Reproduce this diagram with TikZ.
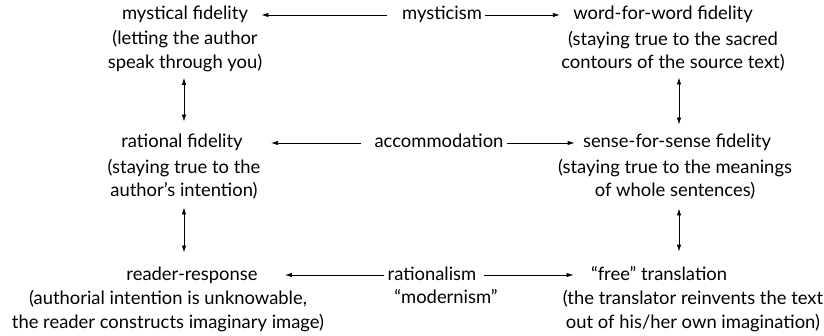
\documentclass[tikz,border=0pt]{standalone}
\usepackage{fontspec}
\setmainfont{Lato}
\usetikzlibrary{arrows.meta,calc}
\begin{document}
\begin{tikzpicture}[x=0.5pt,y=-0.5pt,
  every node/.style={inner sep=0pt, font=\fontsize{9.2}{11.6}\selectfont},
  title/.style={text height=7pt,text depth=2pt},
  desc/.style={align=center},
  arr/.style={-{Latex[length=3.5pt,width=2.2pt]}, line width=0.4pt},
  dbl/.style={{Latex[length=3.5pt,width=2.2pt]}-{Latex[length=3.5pt,width=2.2pt]}, line width=0.4pt}]
\useasboundingbox (0,0) rectangle (824,336);
% row 1
\node[title] (mf) at (185,15) {mystical fidelity};
\node[desc] (mfd) at (185,51) {(letting the author\\speak through you)};
\node[title] (mys) at (442,15) {mysticism};
\node[title] (wf) at (663,15) {word-for-word fidelity};
\node[desc] (wfd) at (673,51) {(staying true to the sacred\\contours of the source text)};
% row 2
\node[title] (rf) at (182,143) {rational fidelity};
\node[desc] (rfd) at (184,179) {(staying true to the\\author’s intention)};
\node[title] (acc) at (439,143) {accommodation};
\node[title] (sf) at (677,143) {sense-for-sense fidelity};
\node[desc] (sfd) at (675,179) {(staying true to the meanings\\of whole sentences)};
% row 3
\node[title] (rr) at (192,275) {reader-response};
\node[desc] (rrd) at (168,311) {(authorial intention is unknowable,\\the reader constructs imaginary image)};
\node[title] (rat) at (432,275) {rationalism};
\node[title] (mod) at (446,298) {“modernism”};
\node[title] (ft) at (659,275) {“free” translation};
\node[desc] (ftd) at (693,311) {(the translator reinvents the text\\out of his/her own imagination)};
% horizontal arrows
\draw[arr] ([xshift=-7.5pt]mys.west) -- ([xshift=6.5pt]mf.east);
\draw[arr] ([xshift=1.5pt]mys.east) -- ([xshift=-6.5pt]wf.west);
\draw[arr] ([xshift=-6.5pt]acc.west) -- ([xshift=14pt]rf.east);
\draw[arr] ([xshift=1.5pt]acc.east) -- ([xshift=-4pt]sf.west);
\draw[arr] ([xshift=-1.5pt]rat.west) -- ([xshift=13.5pt]rr.east);
\draw[arr] ([xshift=3.5pt]rat.east) -- ([xshift=-8.5pt]ft.west);
% vertical arrows
\draw[dbl] ($(mfd.south)+(-0.5pt,-3pt)$) -- ($(mfd.south |- rf.north)+(-0.5pt,6pt)$);
\draw[dbl] ($(mfd.south |- rfd.south)+(-0.5pt,-4pt)$) -- ($(mfd.south |- rr.north)+(-0.5pt,6.5pt)$);
\draw[dbl] ($(wfd.south)+(3pt,-3pt)$) -- ($(wfd.south |- sf.north)+(3pt,4.5pt)$);
\draw[dbl] ($(wfd.south |- sfd.south)+(3pt,-4.5pt)$) -- ($(wfd.south |- ft.north)+(3pt,7pt)$);
\end{tikzpicture}
\end{document}
